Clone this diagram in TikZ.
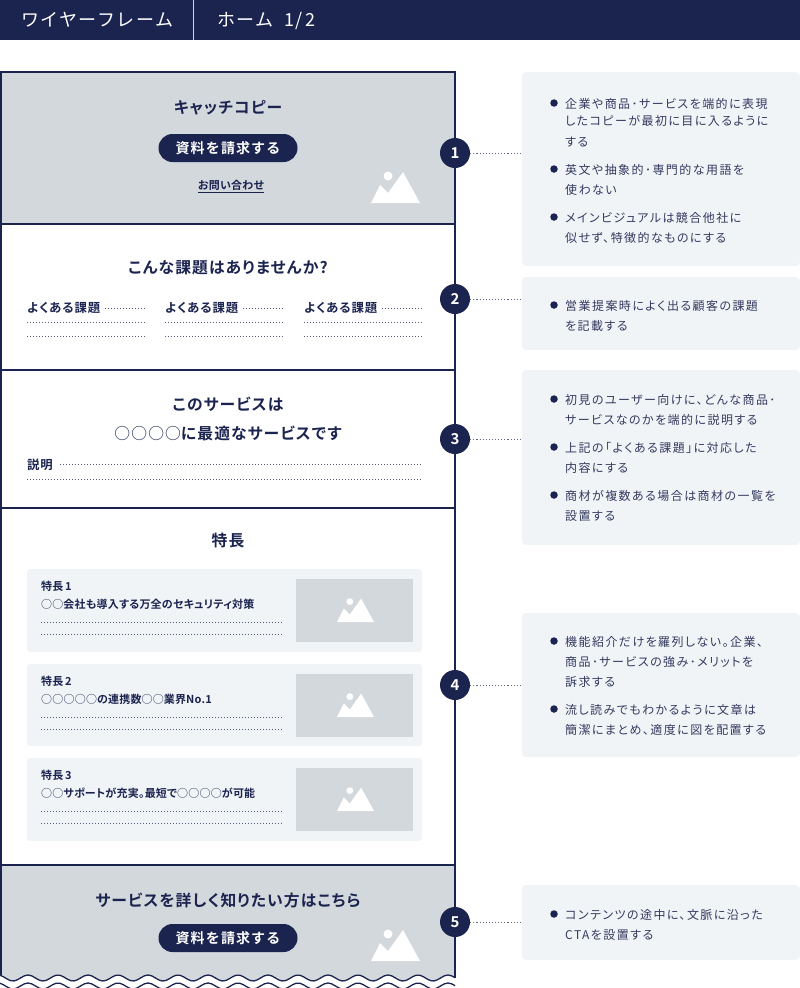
\documentclass[tikz,border=0pt]{standalone}
\usepackage{fontspec}
\newfontfamily\jpfont[RawFeature=+palt,LetterSpace=7,BoldFont={Noto Sans CJK JP Bold}]{Noto Sans CJK JP}
\newfontfamily\jpnote[RawFeature=+palt,LetterSpace=12]{Noto Sans CJK JP}
\newfontfamily\jptight[RawFeature=+palt,LetterSpace=2,BoldFont={Noto Sans CJK JP Bold}]{Noto Sans CJK JP}
\newfontfamily\jpwide[LetterSpace=8,BoldFont={Noto Sans CJK JP Bold}]{Noto Sans CJK JP}
\definecolor{navy}{HTML}{1B234F}
\definecolor{wfgray}{HTML}{D3D8DC}
\definecolor{pale}{HTML}{F1F4F7}
\definecolor{bodytext}{HTML}{34395F}
\newcommand{\thin}[1]{{\mdseries #1}}
\tikzset{
	mountain/.pic={
		\fill[white] (0,0) -- (9,-18) -- (17,-10) -- (32,-31) -- (49,0) -- cycle;
		\fill[white] (17,-27) circle[radius=4.5];
	},
	leader/.style={navy!70,line width=1pt,dash pattern=on 1.1pt off 2pt},
	rule/.style={navy!75,line width=.9pt,dash pattern=on 1.1pt off 1.9pt},
	frame/.style={navy,line width=1.6pt},
	panel/.style={fill=pale,rounded corners=4pt},
	badge/.style={circle,fill=navy,text=white,minimum size=30pt,inner sep=0pt,font=\jpfont\bfseries\fontsize{15}{15}\selectfont},
	bullet/.style={circle,fill=navy,minimum size=7.5pt,inner sep=0pt},
	note/.style={anchor=mid west,inner sep=0pt,text=bodytext,font=\jpnote\fontsize{12}{12}\selectfont},
	headline/.style={anchor=mid,inner sep=0pt,text=navy,font=\jpfont\bfseries\fontsize{15.8}{15.8}\selectfont},
	small/.style={anchor=mid west,inner sep=0pt,text=navy,font=\jpfont\bfseries\fontsize{12.4}{12.4}\selectfont},
	tiny/.style={anchor=mid west,inner sep=0pt,text=navy,font=\jptight\bfseries\fontsize{11}{11}\selectfont},
	cta/.style={rounded corners=14pt,fill=navy,text=white,minimum width=139pt,minimum height=28pt,inner sep=0pt,font=\jpwide\bfseries\fontsize{14}{14}\selectfont},
	banner/.style={anchor=mid west,inner sep=0pt,text=white,font=\jpwide\fontsize{18}{18}\selectfont},
	wave/.style={navy,line width=1.3pt,domain=0:455,samples=130,smooth},
}
\begin{document}
\begin{tikzpicture}[x=1pt,y=-1pt]
	\useasboundingbox (0,0) rectangle (800,988);
	% header
	\fill[navy] (0,0) rectangle (800,40);
	\draw[white!80!navy,line width=.8pt] (193,0) -- (193,40);
	\node[banner] (title) at (21,24) {ワイヤーフレーム};
	\node[banner] (page) at (217,24) {ホーム\ \ 1/\,2};
	% wireframe
	\fill[wfgray] (1,72) rectangle (455,224);
	\fill[wfgray] (1,865) -- (455,865) -- plot[domain=455:0,samples=130,smooth] (\x,{978-3*cos((\x-28)*12)}) -- cycle;
	\draw[frame] (1,975) -- (1,72) -- (455,72) -- (455,978);
	\foreach \y in {224,370,508,865} \draw[frame] (1,\y) -- (455,\y);
	\draw[wave] plot (\x,{978-3*cos((\x-28)*12)});
	\draw[wave] plot (\x,{986-3*cos((\x-28)*12)});
	% hero
	\node[headline] (catch) at (228,111) {キャッチコピー};
	\node[cta] (cta1) at (228,148) {資料を請求する};
	\node[tiny,anchor=mid] (contact) at (231,187) {お問い合わせ};
	\draw[navy,line width=1pt] (198,192) -- (264,192);
	\pic at (371,203) {mountain};
	% issues
	\node[headline] (issue) at (228,271) {こんな課題はありませんか?};
	\foreach \x [count=\i] in {27,165,304} {
		\node[small] (faq\i) at (\x,310) {よくある課題};
		\draw[rule] (\x+78,308) -- (\x+118,308);
		\draw[rule] (\x,322) -- (\x+118,322);
		\draw[rule] (\x,336) -- (\x+118,336);
	}
	% service
	\node[headline] (svca) at (228,408) {このサービスは};
	\node[headline] (svcb) at (228,437) {\thin{○○○○}に最適なサービスです};
	\node[small] (expl) at (27,467) {説明};
	\draw[rule] (60,464) -- (422,464);
	\draw[rule] (27,479) -- (422,479);
	% features
	\node[headline] (feat) at (228,544) {特長};
	\foreach \y/\t/\h [count=\i] in {569/\thin{○○}会社も導入する万全のセキュリティ対策/83,664/\thin{○○○○○}の連携数\thin{○○}業界No.1/82,758/\thin{○○}サポートが充実。最短で\thin{○○○○}が可能/83} {
		\fill[pale,rounded corners=3pt] (27,\y) rectangle (422,\y+\h);
		\fill[wfgray] (296,\y+10) rectangle (413,\y+73);
		\pic[scale=.755] at (337,\y+53) {mountain};
		\node[tiny] (fname\i) at (41,\y+19) {特長\,\i};
		\node[tiny] (fline\i) at (41,\y+37) {\t};
		\draw[rule] (41,\y+53) -- (283,\y+53);
		\draw[rule] (41,\y+65) -- (283,\y+65);
	}
	% closing
	\node[headline] (more) at (228,904) {サービスを詳しく知りたい方はこちら};
	\node[cta] (cta2) at (228,938) {資料を請求する};
	\pic at (371,961) {mountain};
	% notes
	\fill[panel] (522,72) rectangle (800,266);
	\fill[panel] (522,277) rectangle (800,350);
	\fill[panel] (522,370) rectangle (800,545);
	\fill[panel] (522,613) rectangle (800,757);
	\fill[panel] (522,885) rectangle (800,960);
	\foreach \y [count=\i] in {153,299,439,685,922} {
		\node[badge] (c\i) at (455,\y) {\i};
		\coordinate (e\i) at (522,\y);
		\draw[leader] (c\i) -- (e\i);
	}
	\foreach \y [count=\i] in {103,169,217,305,399,447,495,641,709,914}
		\node[bullet] (dot\i) at (554,\y) {};
	\foreach \y/\t [count=\i] in {
		103/企業や商品･サービスを端的に表現,
		120/したコピーが最初に目に入るように,
		141/する,
		169/英文や抽象的･専門的な用語を,
		189/使わない,
		217/メインビジュアルは競合他社に,
		237/似せず、特徴的なものにする,
		305/営業提案時によく出る顧客の課題,
		325/を記載する,
		399/初見のユーザー向けに、どんな商品･,
		419/サービスなのかを端的に説明する,
		447/上記の「よくある課題」に対応した,
		467/内容にする,
		495/商材が複数ある場合は商材の一覧を,
		515/設置する,
		641/機能紹介だけを羅列しない。企業、,
		661/商品･サービスの強み･メリットを,
		681/訴求する,
		709/流し読みでもわかるように文章は,
		729/簡潔にまとめ、適度に図を配置する,
		914/コンテンツの途中に、文脈に沿った,
		934/CTAを設置する}
		\node[note] (line\i) at (565,\y+3) {\t};
\end{tikzpicture}
\end{document}
